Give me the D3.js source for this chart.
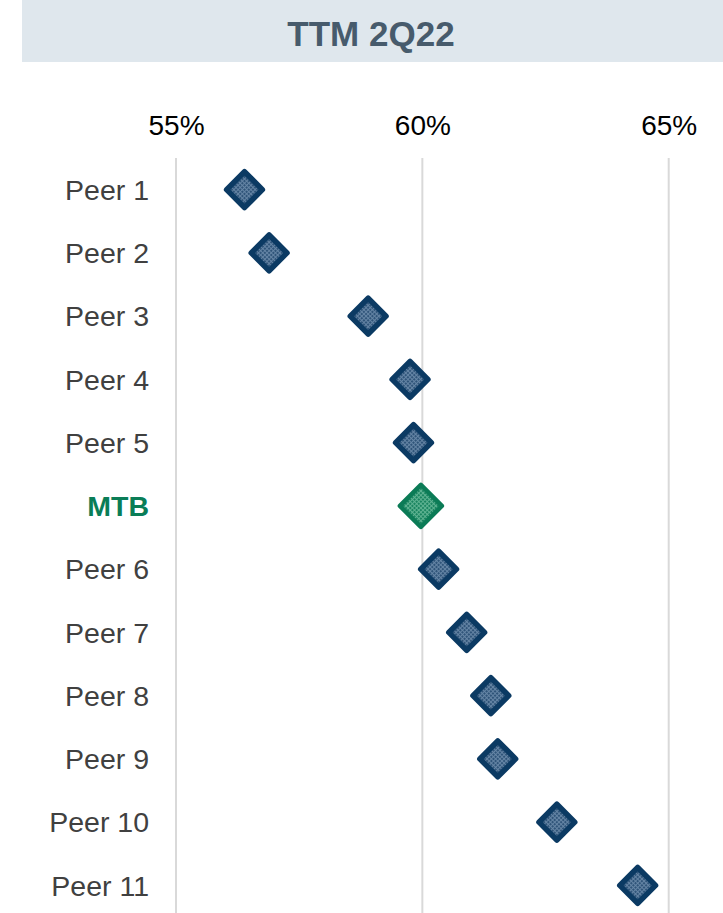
<!DOCTYPE html>
<html>
<head>
<meta charset="utf-8">
<script src="https://cdn.jsdelivr.net/npm/d3@7"></script>
<style>
body { margin:0; background:#fff; }
svg { display:block; font-family:"Liberation Sans", Arial, sans-serif; }
</style>
</head>
<body>
<div id="my_viz"></div>
<script>
const title = "TTM 2Q22"
const categories = ["Peer 1","Peer 2","Peer 3","Peer 4","Peer 5","MTB","Peer 6","Peer 7","Peer 8","Peer 9","Peer 10","Peer 11"]
const values = [56.39, 56.89, 58.90, 59.75, 59.82, 59.97, 60.33, 60.90, 61.39, 61.53, 62.73, 64.37]
const tick_values = [55, 60, 65]
const highlight = "MTB"

const width = 723
const height = 913

var svg = d3.select("#my_viz")
.append("svg")
.attr("width", width)
.attr("height", height)

// patterns for the marker fill
var defs = svg.append("defs")
function makePattern(id, bg, fg) {
	var p = defs.append("pattern")
	.attr("id", id)
	.attr("width", 3)
	.attr("height", 3)
	.attr("patternUnits", "userSpaceOnUse")
	p.append("rect").attr("width", 3).attr("height", 3).attr("fill", bg)
	p.append("rect").attr("x", 1).attr("width", 1).attr("height", 3).attr("fill", fg)
	p.append("rect").attr("y", 1).attr("width", 3).attr("height", 1).attr("fill", fg)
}
makePattern("peerFill", "#2f5479", "#6585a5")
makePattern("mtbFill", "#1a8460", "#5fb392")

// title band
svg.append("rect")
.attr("x", 22)
.attr("y", 0)
.attr("width", width - 22)
.attr("height", 62)
.attr("fill", "#dfe7ed")

svg.append("text")
.attr("x", 371)
.attr("y", 46)
.attr("text-anchor", "middle")
.style("font-size", "35px")
.style("font-weight", "bold")
.attr("fill", "#475b6c")
.text(title)

// scales
var xScale = d3.scaleLinear()
.domain([55, 65])
.range([176, 668.7])

var yScale = d3.scaleBand()
.domain(categories)
.range([158, 917])

// gridlines + tick labels
var xAxis = svg.append("g")
.attr("transform", "translate(0,158)")
.call(d3.axisTop(xScale).tickValues(tick_values).tickSize(0).tickPadding(23).tickFormat(d => d + "%"))
xAxis.select(".domain").remove()
xAxis.selectAll(".tick text")
.style("font-size", "28px")
.style("font-family", "Liberation Sans, Arial, sans-serif")
.attr("fill", "#000")

svg.append("g")
.selectAll("line")
.data(tick_values)
.enter()
.append("line")
.attr("x1", d => xScale(d))
.attr("x2", d => xScale(d))
.attr("y1", 158)
.attr("y2", height)
.attr("stroke", "#d9d9d9")
.attr("stroke-width", 2)

// category labels
var yAxis = svg.append("g")
.attr("transform", "translate(149,1)")
.call(d3.axisLeft(yScale).tickSize(0).tickPadding(0))
yAxis.select(".domain").remove()
yAxis.selectAll(".tick text")
.style("font-size", "28.5px")
.style("font-family", "Liberation Sans, Arial, sans-serif")
.style("font-weight", d => d == highlight ? "bold" : "normal")
.attr("fill", d => d == highlight ? "#0a7d57" : "#404040")

// markers (MTB drawn a bit larger, thinner outline)
var diamond = d3.symbol().type(d3.symbolSquare).size(d => d == highlight ? 880 : 640)
var yMid = d => yScale(d) + yScale.bandwidth() / 2

svg.append("g")
.selectAll("path")
.data(categories)
.enter()
.append("path")
.attr("d", diamond)
.attr("transform", (d, i) => "translate(" + xScale(values[i]) + "," + yMid(d) + ") rotate(45)")
.attr("fill", d => d == highlight ? "url(#mtbFill)" : "url(#peerFill)")
.attr("stroke", d => d == highlight ? "#0b7b56" : "#0b3a63")
.attr("stroke-width", d => d == highlight ? 4.5 : 5.5)
.attr("stroke-linejoin", "round")
</script>
</body>
</html>
